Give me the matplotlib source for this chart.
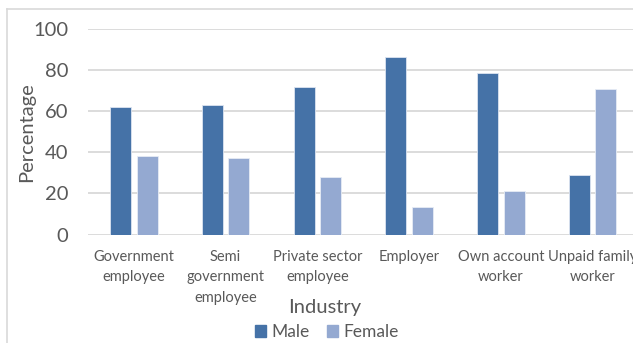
import numpy as np
import matplotlib
matplotlib.use("Agg")
import matplotlib.pyplot as plt
from matplotlib.patches import Rectangle
from matplotlib.lines import Line2D

categories = ["Government\nemployee", "Semi\ngovernment\nemployee", "Private sector\nemployee",
              "Employer", "Own account\nworker", "Unpaid family\nworker"]
male = [62, 63, 72, 86.4, 78.4, 29]
female = [38, 37, 28, 13.2, 21.3, 70.8]
yticks = [0, 20, 40, 60, 80, 100]

plt.rcParams['font.family'] = ['Lato', 'DejaVu Sans']
grey = '#595959'
c_male = '#4572A7'
c_female = '#94A9D1'

W, H = 633, 343
fig = plt.figure(figsize=(W / 100, H / 100), dpi=100)
# axes: left 88px, right edge at 633 (chart is cut off on the right), y0 at 234.5, y100 at 29
ax = fig.add_axes([88 / W, (H - 234.5) / H, (W - 88) / W, (234.5 - 29) / H])

x = np.arange(len(categories))
off = 0.145
bw = 0.23
ax.bar(x - off, male, bw, color=c_male, edgecolor='#dce4f0', linewidth=0.6, label='Male', zorder=3)
ax.bar(x + off, female, bw, color=c_female, edgecolor='#e6ecf5', linewidth=0.6, label='Female', zorder=3)

ax.set_xlim(-0.5, 5.44)
ax.set_ylim(0, 100)
ax.set_yticks(yticks)
ax.yaxis.grid(True, color='#d9d9d9', linewidth=1.3, zorder=0)
for s in ax.spines.values():
    s.set_visible(False)
ax.tick_params(axis='both', length=0)
ax.tick_params(axis='y', labelsize=14.5, labelcolor=grey, pad=14)
ax.set_xticks(x)
ax.set_xticklabels(categories, fontsize=10.5, color=grey, linespacing=1.6)
ax.tick_params(axis='x', pad=11)

fig.text(27 / W, 1 - 132 / H, "Percentage", rotation=90, ha='center', va='center',
         fontsize=14.5, color=grey)
fig.text(325 / W, 1 - 307 / H, "Industry", ha='center', va='center', fontsize=14.5, color=grey)

# legend
handles = [Rectangle((0, 0), 1, 1, color=c_male), Rectangle((0, 0), 1, 1, color=c_female)]
fig.legend(handles, ['Male', 'Female'], loc='center', bbox_to_anchor=(327 / W, 1 - 332 / H),
           ncol=2, frameon=False, fontsize=12.5, labelcolor=grey, handlelength=0.65,
           handleheight=0.65, handletextpad=0.3, columnspacing=1.0, borderpad=0)

# outer chart frame (top and left visible)
fig.add_artist(Line2D([7 / W, 7 / W], [0, 1 - 9 / H], transform=fig.transFigure, color='#d9d9d9', lw=1.2))
fig.add_artist(Line2D([7 / W, 1], [1 - 9 / H, 1 - 9 / H], transform=fig.transFigure, color='#d9d9d9', lw=1.2))

fig.savefig("out.png", dpi=100)
